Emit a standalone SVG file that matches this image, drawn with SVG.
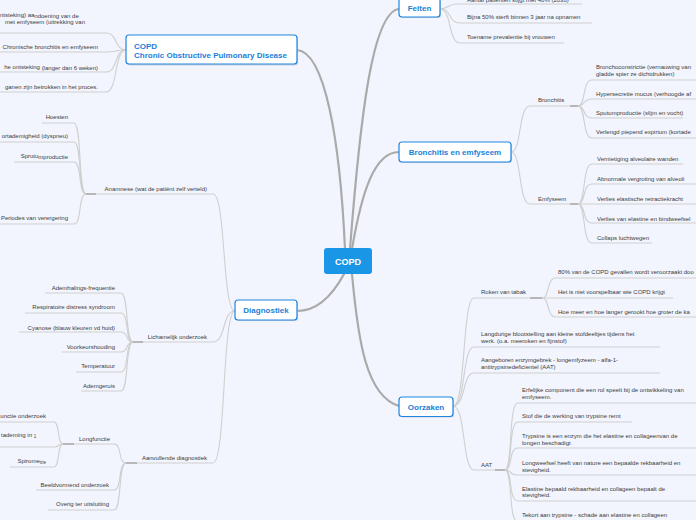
<svg xmlns="http://www.w3.org/2000/svg" width="696" height="520" viewBox="0 0 696 520">
<style>
.m{fill:none;stroke:#aaaaaa;stroke-width:2.2;stroke-linecap:round}
.c{fill:none;stroke:#cfcfcf;stroke-width:1.1}
.j{fill:none;stroke:#a8a8a8;stroke-width:1.6}
.t{font-family:"Liberation Sans",Arial,sans-serif;font-size:6px;fill:#3c3c3c}
.e{text-anchor:end}
.nb{fill:#ffffff;stroke:#1f85e0;stroke-width:1.2}
.sh{fill:#c8d0e0}
.nt{font-family:"Liberation Sans",Arial,sans-serif;font-size:8px;font-weight:bold;fill:#1a7fd8}
.ct{text-anchor:middle}
.sub{font-size:4.5px}
</style>
<rect width="696" height="520" fill="#f2f5fd"/>

<g id="connectors">
  <path class="m" d="M345 249 C340 140 325 52 297 50"/>
  <path class="m" d="M350 249 C360 120 372 12 399 9"/>
  <path class="m" d="M352 249 C362 190 375 152 399 152"/>
  <path class="m" d="M344 274 C330 300 315 311 297 311"/>
  <path class="m" d="M352 274 C358 340 366 396 399 406"/>

  <path class="c" d="M126 50 C114 50 118 33 106 33 H0"/>
  <path class="c" d="M126 50 C116 50 116 52 106 52 H0"/>
  <path class="c" d="M126 50 C114 50 118 72 106 72 H0"/>
  <path class="c" d="M126 50 C114 50 118 92 106 92 H0"/>

  <path class="c" d="M440 9 C448 9 448 4 456 4 H582"/>
  <path class="c" d="M440 9 C452 9 448 23 460 23 H592"/>
  <path class="c" d="M440 9 C452 9 448 43 460 43 H564"/>

  <path class="c" d="M511 152 C522 152 518 106 530 106 H570"/>
  <path class="j" d="M570 106 H578"/>
  <path class="c" d="M578 106 C586 106 582 80 592 80 H696"/>
  <path class="c" d="M578 106 C586 106 582 99 592 99 H696"/>
  <path class="c" d="M578 106 C586 106 582 118 592 118 H683"/>
  <path class="c" d="M578 106 C586 106 582 138 592 138 H696"/>
  <path class="c" d="M511 152 C522 152 518 204 530 204 H570"/>
  <path class="j" d="M570 204 H578"/>
  <path class="c" d="M578 204 C586 204 582 164 592 164 H683"/>
  <path class="c" d="M578 204 C586 204 582 184 592 184 H696"/>
  <path class="c" d="M578 204 H696"/>
  <path class="c" d="M578 204 C586 204 582 223 592 223 H696"/>
  <path class="c" d="M578 204 C586 204 582 243 592 243 H652"/>

  <path class="c" d="M453 406 C466 406 462 298 474 298 H530"/>
  <path class="j" d="M530 298 H542"/>
  <path class="c" d="M542 298 C550 298 546 278 556 278 H696"/>
  <path class="c" d="M542 298 H673"/>
  <path class="c" d="M542 298 C550 298 546 317 556 317 H696"/>
  <path class="c" d="M453 406 C466 406 462 347 474 347 H660"/>
  <path class="c" d="M453 406 C466 406 462 373 474 373 H660"/>
  <path class="c" d="M453 406 C466 406 462 470 474 470 H495"/>
  <path class="j" d="M495 470 H505"/>
  <path class="c" d="M505 470 C513 470 508 403 518 403 H696"/>
  <path class="c" d="M505 470 C513 470 508 422 518 422 H632"/>
  <path class="c" d="M505 470 C513 470 508 448 518 448 H696"/>
  <path class="c" d="M505 470 C513 470 508 475 518 475 H696"/>
  <path class="c" d="M505 470 C513 470 508 501 518 501 H696"/>
  <path class="c" d="M505 470 C513 470 508 522 518 522 H696"/>

  <path class="c" d="M235 311 C222 311 226 194 213 194 H96"/>
  <path class="j" d="M96 194 H86"/>
  <path class="c" d="M86 194 C78 194 82 123 74 123 H42"/>
  <path class="c" d="M86 194 C78 194 82 142 74 142 H0"/>
  <path class="c" d="M86 194 C78 194 82 162 74 162 H14"/>
  <path class="c" d="M86 194 C78 194 82 224 74 224 H0"/>

  <path class="c" d="M235 311 C222 311 226 342 213 342 H143"/>
  <path class="j" d="M143 342 H133"/>
  <path class="c" d="M133 342 C125 342 129 293 121 293 H45"/>
  <path class="c" d="M133 342 C125 342 129 313 121 313 H25"/>
  <path class="c" d="M133 342 C125 342 129 332 121 332 H19"/>
  <path class="c" d="M133 342 C125 342 129 352 121 352 H62"/>
  <path class="c" d="M133 342 C125 342 129 372 121 372 H76"/>
  <path class="c" d="M133 342 C125 342 129 391 121 391 H81"/>

  <path class="c" d="M235 311 C222 311 226 463 213 463 H137"/>
  <path class="j" d="M137 463 H126"/>
  <path class="c" d="M126 463 C118 463 122 444 114 444 H74"/>
  <path class="j" d="M74 444 H63"/>
  <path class="c" d="M63 444 C57 444 60 422 54 422 H0"/>
  <path class="c" d="M63 444 C57 444 60 447 54 447 H0"/>
  <path class="c" d="M63 444 C57 444 60 467 54 467 H10"/>
  <path class="c" d="M126 463 C118 463 122 490 114 490 H36"/>
  <path class="c" d="M126 463 C118 463 122 510 114 510 H48"/>
</g>

<g id="root">
  <rect x="324" y="248" width="48" height="26" rx="3" fill="#1a96e6"/>
  <text x="348" y="265" class="ct" font-family="Liberation Sans, Arial, sans-serif" font-size="9" font-weight="bold" fill="#ffffff">COPD</text>
</g>

<g id="node-copd-def">
  <rect class="sh" x="127" y="36" width="171" height="29.5" rx="3"/>
  <rect class="nb" x="126" y="35" width="171" height="29" rx="3"/>
  <text class="nt" x="134" y="49">COPD</text>
  <text class="nt" x="134" y="58">Chronic Obstructive Pulmonary Disease</text>
</g>
<g id="node-felten">
  <rect class="sh" x="400" y="-1" width="41" height="19" rx="3"/>
  <rect class="nb" x="399" y="-2" width="41" height="19" rx="3"/>
  <text class="nt ct" x="419.5" y="11">Felten</text>
</g>
<g id="node-bronchitis-emfyseem">
  <rect class="sh" x="400" y="143" width="112" height="20" rx="3"/>
  <rect class="nb" x="399" y="142" width="112" height="20" rx="3"/>
  <text class="nt ct" x="455" y="155">Bronchitis en emfyseem</text>
</g>
<g id="node-diagnostiek">
  <rect class="sh" x="236" y="301" width="62" height="20" rx="3"/>
  <rect class="nb" x="235" y="300" width="62" height="20" rx="3"/>
  <text class="nt ct" x="266" y="313">Diagnostiek</text>
</g>
<g id="node-oorzaken">
  <rect class="sh" x="400" y="398" width="54" height="19.5" rx="3"/>
  <rect class="nb" x="399" y="397" width="54" height="19.5" rx="3"/>
  <text class="nt ct" x="426" y="409.5">Oorzaken</text>
</g>

<g id="def-1">
  <text class="t" x="0" y="16.5">ntsteking) aa<tspan dy="1">ndoening van de</tspan></text>
  <text class="t e" x="85" y="23.5">met emfyseem (uitrekking van</text>
</g>
<g id="def-2"><text class="t e" x="98" y="49">Chronische bronchitis en emfyseem</text></g>
<g id="def-3"><text class="t e" x="98" y="69">he ontsteking <tspan dy="0.8">(langer dan 6 weken)</tspan></text></g>
<g id="def-4"><text class="t e" x="98" y="88.5">ganen zijn betrokken in het proces.</text></g>

<g id="felten-1"><text class="t" x="467" y="1.5">Aantal patiënten stijgt met 40% (2030)</text></g>
<g id="felten-2"><text class="t" x="467" y="19">Bijna 50% sterft binnen 3 jaar na opnamen</text></g>
<g id="felten-3"><text class="t" x="467" y="39">Toename prevalentie bij vrouwen</text></g>

<g id="bronchitis"><text class="t" x="538" y="102">Bronchitis</text></g>
<g id="bronchitis-1">
  <text class="t" x="596" y="69">Bronchoconstrictie (vernauwing van</text>
  <text class="t" x="596" y="76">gladde spier ze dichtdrukken)</text>
</g>
<g id="bronchitis-2"><text class="t" x="596" y="95.5">Hypersecretie mucus (verhoogde af</text></g>
<g id="bronchitis-3"><text class="t" x="596" y="114.5">Sputumproductie (slijm en vocht)</text></g>
<g id="bronchitis-4"><text class="t" x="596" y="134">Verlengd piepend expirium (kortade</text></g>

<g id="emfyseem"><text class="t" x="538" y="201">Emfyseem</text></g>
<g id="emfyseem-1"><text class="t" x="597" y="161">Vernietiging alveolaire wanden</text></g>
<g id="emfyseem-2"><text class="t" x="597" y="181">Abnormale vergroting van alveoli</text></g>
<g id="emfyseem-3"><text class="t" x="597" y="201">Verlies elastische retractiekracht</text></g>
<g id="emfyseem-4"><text class="t" x="597" y="220.5">Verlies van elastine en bindweefsel</text></g>
<g id="emfyseem-5"><text class="t" x="597" y="240">Collaps luchtwegen</text></g>

<g id="roken"><text class="t" x="481" y="294">Roken van tabak</text></g>
<g id="roken-1"><text class="t" x="558" y="274">80% van de COPD gevallen wordt veroorzaakt doo</text></g>
<g id="roken-2"><text class="t" x="558" y="294">Het is niet voorspelbaar wie COPD krijgt</text></g>
<g id="roken-3"><text class="t" x="558" y="314">Hoe meer en hoe langer gerookt hoe groter de ka</text></g>
<g id="langdurig">
  <text class="t" x="481" y="336">Langdurige blootstelling aan kleine stofdeeltjes tijdens het</text>
  <text class="t" x="481" y="343">werk. (o.a. meeroken en fijnstof)</text>
</g>
<g id="aangeboren">
  <text class="t" x="481" y="362">Aangeboren enzymgebrek - longemfyzeem - alfa-1-</text>
  <text class="t" x="481" y="369">antitrypsinedeficientel (AAT)</text>
</g>
<g id="aat"><text class="t" x="481" y="467">AAT</text></g>
<g id="aat-1">
  <text class="t" x="522" y="392">Erfelijke component die een rol speelt bij de ontwikkeling van</text>
  <text class="t" x="522" y="399">emfyseem.</text>
</g>
<g id="aat-2"><text class="t" x="522" y="418">Stof die de werking van trypsine remt</text></g>
<g id="aat-3">
  <text class="t" x="522" y="438">Trypsine is een enzym die het elastine en collageenvan de</text>
  <text class="t" x="522" y="445">longen beschadigt</text>
</g>
<g id="aat-4">
  <text class="t" x="522" y="465">Longweefsel heeft van nature een bepaalde rekbaarheid en</text>
  <text class="t" x="522" y="471.5">stevigheid.</text>
</g>
<g id="aat-5">
  <text class="t" x="522" y="490.5">Elastine bepaald rekbaarheid en collageen bepaalt de</text>
  <text class="t" x="522" y="497">stevigheid.</text>
</g>
<g id="aat-6"><text class="t" x="522" y="517">Tekort aan trypsine - schade aan elastine en collageen</text></g>

<g id="anamnese"><text class="t e" x="207" y="191">Anamnese (wat de patiënt zelf verteld)</text></g>
<g id="anamnese-1"><text class="t e" x="68" y="119">Hoesten</text></g>
<g id="anamnese-2"><text class="t e" x="68" y="138">ortademigheid (dyspneu)</text></g>
<g id="anamnese-3"><text class="t e" x="68" y="158">Sprutu<tspan dy="0.8">mproductie</tspan></text></g>
<g id="anamnese-4"><text class="t e" x="68" y="220">Periodes van verergering</text></g>

<g id="lichamelijk"><text class="t e" x="207" y="339">Lichamelijk onderzoek</text></g>
<g id="lich-1"><text class="t e" x="115" y="290">Ademhalings-frequentie</text></g>
<g id="lich-2"><text class="t e" x="115" y="309">Respiratoire distress syndroom</text></g>
<g id="lich-3"><text class="t e" x="115" y="329.5">Cyan<tspan dy="0.8">ose (blauw kleuren vd huid)</tspan></text></g>
<g id="lich-4"><text class="t e" x="115" y="348.5">Voorkeurshouding</text></g>
<g id="lich-5"><text class="t e" x="115" y="368">Temperatuur</text></g>
<g id="lich-6"><text class="t e" x="115" y="387.5">Ademgeruis</text></g>

<g id="aanvullend"><text class="t e" x="207" y="460">Aanvullende diagnostiek</text></g>
<g id="longfunctie"><text class="t e" x="110" y="441">Longfunctie</text></g>
<g id="long-1"><text class="t e" x="46" y="418">unctie onderzoek</text></g>
<g id="long-2"><text class="t" x="1" y="437">tademing in <tspan class="sub" dy="1">1</tspan></text></g>
<g id="long-3"><text class="t e" x="46" y="463">Spirome<tspan class="sub" dy="1">trie</tspan></text></g>
<g id="beeldvormend"><text class="t e" x="109" y="487">Beeldvormend onderzoek</text></g>
<g id="overig"><text class="t e" x="109" y="506">Overig ter uitsluiting</text></g>
</svg>
